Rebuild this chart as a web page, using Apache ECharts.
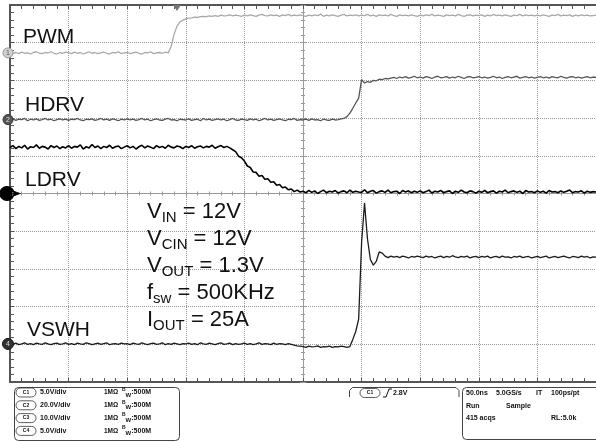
<!DOCTYPE html>
<html>
<head>
<meta charset="utf-8">
<script src="https://cdn.jsdelivr.net/npm/echarts@6/dist/echarts.min.js"></script>
<style>
  html, body { margin: 0; padding: 0; background: #fff; }
  #main { width: 596px; height: 442px; }
</style>
</head>
<body>
<div id="main"></div>
<script>
// time base: one sample every 0.05 division, 10 divisions across
const sampleStep = 0.05;
const channelNames = ['PWM', 'HDRV', 'LDRV', 'VSWH'];
const channelOffsets = [3.73, 1.96, 0, -3.99];   // ground markers, in divisions
const triggerTime = 2.85;

// traces, in vertical divisions
const pwm = [
  3.69,3.72,3.74,3.71,3.75,3.72,3.73,3.70,3.74,3.76,3.72,3.71,3.74,3.73,3.76,3.72,3.70,3.74,3.72,3.75,
  3.73,3.71,3.75,3.72,3.74,3.70,3.73,3.76,3.72,3.74,3.71,3.73,3.75,3.72,3.70,3.74,3.73,3.76,3.71,3.73,
  3.74,3.71,3.73,3.75,3.72,3.70,3.74,3.73,3.76,3.71,3.73,3.74,3.72,3.75,3.73,3.90,4.22,4.44,4.55,4.60,
  4.63,4.65,4.66,4.68,4.67,4.69,4.70,4.69,4.71,4.70,4.72,4.70,4.73,4.71,4.72,4.74,4.71,4.73,4.72,4.70,
  4.73,4.71,4.74,4.72,4.70,4.73,4.75,4.72,4.71,4.74,4.72,4.73,4.70,4.74,4.72,4.75,4.71,4.73,4.72,4.74,
  4.72,4.70,4.73,4.71,4.74,4.72,4.76,4.70,4.73,4.71,4.74,4.72,4.70,4.73,4.75,4.71,4.73,4.72,4.74,4.71,
  4.73,4.72,4.75,4.71,4.73,4.70,4.74,4.72,4.73,4.71,4.75,4.72,4.70,4.74,4.72,4.73,4.71,4.74,4.72,4.70,
  4.73,4.71,4.74,4.72,4.75,4.71,4.73,4.72,4.70,4.74,4.72,4.73,4.71,4.75,4.72,4.70,4.73,4.74,4.71,4.73,
  4.72,4.74,4.70,4.73,4.71,4.75,4.72,4.73,4.71,4.74,4.72,4.70,4.73,4.72,4.75,4.71,4.74,4.72,4.73,4.71,
  4.73,4.71,4.74,4.72,4.70,4.73,4.72,4.75,4.71,4.73,4.72,4.74,4.70,4.73,4.71,4.74,4.72,4.73,4.71,4.72,
  4.73
];
const hdrv = [
  1.95,1.98,1.94,1.97,1.96,1.99,1.93,1.97,1.95,1.98,1.94,1.96,1.99,1.95,1.97,1.93,1.96,1.98,1.95,1.97,
  1.94,1.97,1.96,1.99,1.95,1.93,1.97,1.96,1.98,1.94,1.96,1.99,1.95,1.97,1.94,1.98,1.96,1.93,1.97,1.95,
  1.98,1.95,1.97,1.94,1.96,1.99,1.95,1.97,1.93,1.96,1.98,1.95,1.94,1.97,1.99,1.95,1.96,1.93,1.97,1.96,
  1.95,1.98,1.94,1.96,1.97,1.93,1.99,1.95,1.97,1.94,1.96,1.98,1.95,1.97,1.93,1.96,1.99,1.95,1.94,1.97,
  1.96,1.94,1.98,1.95,1.97,1.93,1.96,1.99,1.95,1.97,1.94,1.96,1.98,1.95,1.93,1.97,1.96,1.99,1.94,1.96,
  1.95,1.97,1.94,1.98,1.95,1.96,1.93,1.97,1.95,1.94,1.97,1.95,1.96,1.98,1.99,2.04,2.13,2.26,2.40,2.53,
  3.02,2.93,2.97,2.95,3.00,2.99,3.03,3.02,3.05,3.04,3.06,3.08,3.05,3.09,3.07,3.10,3.06,3.08,3.11,3.07,
  3.09,3.06,3.10,3.08,3.05,3.09,3.11,3.07,3.08,3.10,3.06,3.09,3.07,3.11,3.08,3.05,3.09,3.10,3.07,3.08,
  3.10,3.07,3.09,3.06,3.08,3.11,3.07,3.09,3.05,3.08,3.10,3.07,3.09,3.11,3.06,3.08,3.10,3.07,3.09,3.06,
  3.08,3.10,3.07,3.09,3.06,3.10,3.08,3.07,3.11,3.08,3.06,3.09,3.10,3.07,3.09,3.06,3.08,3.10,3.07,3.09,
  3.08
];
const ldrv = [
  1.22,1.27,1.19,1.25,1.21,1.28,1.18,1.24,1.22,1.29,1.20,1.25,1.23,1.18,1.27,1.22,1.26,1.19,1.24,1.21,
  1.27,1.20,1.25,1.23,1.29,1.18,1.24,1.21,1.30,1.22,1.26,1.19,1.25,1.22,1.28,1.20,1.24,1.26,1.19,1.23,
  1.27,1.21,1.25,1.18,1.24,1.28,1.21,1.26,1.23,1.19,1.27,1.22,1.25,1.20,1.28,1.23,1.21,1.26,1.24,1.19,
  1.25,1.22,1.27,1.20,1.24,1.26,1.21,1.25,1.23,1.28,1.20,1.24,1.27,1.22,1.25,1.21,1.16,1.11,0.99,0.95,
  0.86,0.73,0.69,0.57,0.56,0.46,0.48,0.38,0.39,0.30,0.31,0.22,0.24,0.15,0.17,0.10,0.12,0.05,0.09,0.04,
  0.06,0.02,0.08,0.03,0.07,0.00,0.05,0.09,0.02,0.06,0.04,0.08,0.01,0.05,0.07,0.02,0.09,0.03,0.06,0.04,
  0.03,0.10,0.02,0.06,0.08,0.01,0.05,0.07,0.03,0.09,0.02,0.05,0.06,0.00,0.08,0.04,0.07,0.02,0.06,0.03,
  0.07,0.02,0.05,0.09,0.01,0.06,0.04,0.08,0.02,0.05,0.07,0.00,0.06,0.03,0.09,0.04,0.02,0.07,0.05,0.01,
  0.06,0.03,0.08,0.02,0.05,0.07,0.01,0.06,0.04,0.09,0.02,0.05,0.07,0.03,0.06,0.00,0.08,0.04,0.05,0.02,
  0.07,0.03,0.06,0.01,0.08,0.04,0.05,0.02,0.07,0.03,0.06,0.09,0.02,0.05,0.04,0.07,0.01,0.06,0.03,0.05,
  0.04
];
const vswh = [
  -3.98,-4.00,-3.97,-4.01,-3.99,-3.96,-4.00,-3.98,-4.01,-3.97,-3.99,-4.00,-3.96,-3.99,-4.01,-3.98,-3.97,-4.00,-3.99,-3.96,
  -4.00,-3.98,-4.01,-3.97,-3.99,-4.00,-3.96,-3.98,-4.01,-3.99,-3.97,-4.00,-3.98,-3.96,-4.01,-3.99,-3.98,-4.00,-3.97,-3.99,
  -3.98,-4.01,-3.97,-3.99,-4.00,-3.96,-3.99,-4.01,-3.98,-3.97,-4.00,-3.99,-3.96,-4.01,-3.98,-4.00,-3.97,-3.99,-4.01,-3.98,
  -3.99,-3.97,-4.00,-3.98,-4.01,-3.96,-3.99,-4.00,-3.97,-3.99,-4.01,-3.98,-3.96,-4.00,-3.99,-3.97,-4.01,-3.98,-4.00,-3.99,
  -3.97,-4.00,-3.98,-4.01,-3.99,-3.96,-4.00,-3.98,-3.99,-4.01,-3.97,-4.00,-3.98,-3.99,-4.01,-3.98,-4.00,-4.02,-4.04,-4.05,
  -4.06,-4.08,-4.05,-4.07,-4.06,-4.04,-4.08,-4.06,-4.07,-4.05,-4.08,-4.06,-4.07,-4.05,-4.06,-4.08,-4.06,-3.87,-3.66,-3.33,
  -1.30,-0.25,-1.20,-1.75,-1.90,-1.80,-1.55,-1.58,-1.66,-1.70,-1.66,-1.69,-1.67,-1.70,-1.66,-1.68,-1.71,-1.67,-1.69,-1.66,
  -1.68,-1.70,-1.66,-1.69,-1.67,-1.71,-1.68,-1.66,-1.70,-1.67,-1.69,-1.65,-1.68,-1.70,-1.67,-1.69,-1.66,-1.71,-1.68,-1.67,
  -1.70,-1.67,-1.69,-1.66,-1.71,-1.68,-1.67,-1.70,-1.66,-1.69,-1.68,-1.71,-1.67,-1.69,-1.66,-1.70,-1.68,-1.67,-1.71,-1.69,
  -1.67,-1.70,-1.68,-1.66,-1.71,-1.69,-1.67,-1.70,-1.68,-1.66,-1.69,-1.71,-1.67,-1.68,-1.70,-1.66,-1.69,-1.67,-1.71,-1.68,
  -1.69
];

// readout panel
const chanScales = ['5.0V/div', '20.0V/div', '10.0V/div', '5.0V/div'];
const chanCoupling = '1MΩ';
const chanBandwidth = ':500M';
const triggerLevel = '2.8V';
const acqRow1 = ['50.0ns', '5.0GS/s', 'IT', '100ps/pt'];
const acqRow2 = ['Run', 'Sample'];
const acqRow3 = ['415 acqs', 'RL:5.0k'];

const traces = [pwm, hdrv, ldrv, vswh];
const traceColors = ['#a9a9a9', '#555555', '#000000', '#1c1c1c'];
const traceWidths = [1.3, 1.3, 1.6, 1.3];

const font = '"Liberation Sans", Arial, sans-serif';
const chart = echarts.init(document.getElementById('main'));

function toPoints(values) {
  return values.map((v, i) => [+(i * sampleStep).toFixed(2), v]);
}

const gridDots = { show: true, lineStyle: { color: '#999', width: 1, type: 'dotted' } };

function frameAxis(pos, split) {
  return {
    type: 'value', gridIndex: 0, min: 0, max: 10, interval: 1, position: pos,
    axisLine: { onZero: false, lineStyle: { color: '#555', width: 2 } },
    axisTick: { inside: true, length: 4, lineStyle: { color: '#555' } },
    minorTick: { show: true, splitNumber: 5, length: 4, lineStyle: { color: '#555' } },
    axisLabel: { show: false },
    splitLine: split ? gridDots : { show: false }
  };
}

function crossAxis(grid, inside) {
  return {
    type: 'value', gridIndex: grid, min: -5, max: 5, interval: 1,
    axisLine: { onZero: true, lineStyle: { color: '#999', width: 1 } },
    axisTick: { inside: inside, length: 3, lineStyle: { color: '#999' } },
    minorTick: { show: true, splitNumber: 5, length: 2, lineStyle: { color: '#999' } },
    axisLabel: { show: false },
    splitLine: { show: false }
  };
}

const markerStyles = [
  { symbol: 'circle', symbolSize: 10, color: '#d0d0d0', border: '#999', text: '1', textColor: '#555' },
  { symbol: 'circle', symbolSize: 10, color: '#555', border: '#333', text: '2', textColor: '#ddd' },
  { symbol: 'path://M7,0A7,7,0,1,0,7,14A7,7,0,1,0,7,0ZM12,4L20,7L12,10Z', symbolSize: [20, 14], color: '#000', border: '#000', text: '', textColor: '#fff' },
  { symbol: 'circle', symbolSize: 11, color: '#333', border: '#111', text: '4', textColor: '#ddd' }
];

const series = traces.map((values, i) => {
  const m = markerStyles[i];
  const marks = [{
    coord: [0, channelOffsets[i]],
    symbol: m.symbol,
    symbolSize: m.symbolSize,
    symbolOffset: [i === 2 ? 0 : -2, 0],
    itemStyle: { color: m.color, borderColor: m.border, borderWidth: 1 },
    label: { show: m.text !== '', formatter: m.text, color: m.textColor, fontSize: 7, fontFamily: font, position: 'inside' }
  }];
  if (i === 0) {
    marks.push({
      coord: [triggerTime, 5],
      symbol: 'triangle', symbolRotate: 180, symbolSize: [8, 6], symbolOffset: [0, 3],
      itemStyle: { color: '#777' }, label: { show: false }
    });
  }
  return {
    name: channelNames[i],
    type: 'line',
    xAxisIndex: 0, yAxisIndex: 0,
    data: toPoints(values),
    showSymbol: false,
    symbol: 'none',
    lineStyle: { color: traceColors[i], width: traceWidths[i] },
    z: 3,
    markPoint: { silent: true, animation: false, data: marks }
  };
});

// text on the screen
const traceLabels = [
  { text: 'PWM', x: 23, y: 37 },
  { text: 'HDRV', x: 25, y: 105 },
  { text: 'LDRV', x: 25, y: 180 },
  { text: 'VSWH', x: 27, y: 330 }
];
const graphics = traceLabels.map(l => ({
  type: 'text', x: l.x, y: l.y, z: 10,
  style: { text: l.text, fontSize: 21, fontFamily: font, fill: '#111', verticalAlign: 'middle' }
}));

graphics.push({
  type: 'text', x: 147, y: 198, z: 10,
  style: {
    text: '{a|V}{s|IN}{a| = 12V}\n{a|V}{s|CIN}{a| = 12V}\n{a|V}{s|OUT}{a| = 1.3V}\n{a|f}{s|sw}{a| = 500KHz}\n{a|I}{s|OUT}{a| = 25A}',
    verticalAlign: 'top',
    rich: {
      a: { fontSize: 22, fontFamily: font, fill: '#111', lineHeight: 27 },
      s: { fontSize: 15, fontFamily: font, fill: '#111', lineHeight: 15, verticalAlign: 'bottom' }
    }
  }
});

// readout boxes
const small = { fontSize: 7, fontWeight: 'bold', fontFamily: font, fill: '#111', verticalAlign: 'middle' };
graphics.push({ type: 'rect', shape: { x: 14.5, y: 387.5, width: 165, height: 53, r: 4 }, style: { fill: '#fff', stroke: '#444', lineWidth: 1 } });
graphics.push({ type: 'polyline', shape: { points: [[349.5, 397], [349.5, 390.5], [352.5, 387.5], [456, 387.5], [459, 390.5], [459, 397]] }, style: { fill: 'none', stroke: '#444', lineWidth: 1 } });
graphics.push({ type: 'rect', shape: { x: 462.5, y: 387.5, width: 150, height: 52, r: 4 }, style: { fill: '#fff', stroke: '#444', lineWidth: 1 } });

function pill(x, y, label) {
  graphics.push({ type: 'rect', shape: { x: x, y: y - 4.5, width: 20, height: 9, r: 4.5 }, style: { fill: '#fff', stroke: '#333', lineWidth: 0.8 } });
  graphics.push({ type: 'text', x: x + 10, y: y, style: Object.assign({}, small, { text: label, fontSize: 5, align: 'center' }) });
}

chanScales.forEach((s, i) => {
  const y = 392.5 + i * 12.8;
  pill(16, y, 'C' + (i + 1));
  graphics.push({ type: 'text', x: 40, y: y, style: Object.assign({}, small, { text: s }) });
  graphics.push({ type: 'text', x: 104, y: y, style: Object.assign({}, small, { text: chanCoupling, fontSize: 6.5 }) });
  graphics.push({
    type: 'text', x: 122, y: y,
    style: {
      text: '{b|B}{w|W}{t|' + chanBandwidth + '}', verticalAlign: 'middle',
      rich: {
        b: { fontSize: 5, fontWeight: 'bold', fontFamily: font, fill: '#111', lineHeight: 6, verticalAlign: 'top' },
        w: { fontSize: 6, fontWeight: 'bold', fontFamily: font, fill: '#111', lineHeight: 6, verticalAlign: 'bottom' },
        t: { fontSize: 7, fontWeight: 'bold', fontFamily: font, fill: '#111', lineHeight: 11 }
      }
    }
  });
});

pill(360, 393, 'C1');
graphics.push({ type: 'polyline', shape: { points: [[383, 397], [386, 397], [389, 389], [392, 389]] }, style: { stroke: '#111', lineWidth: 1, fill: 'none' } });
graphics.push({ type: 'text', x: 393, y: 393, style: Object.assign({}, small, { text: triggerLevel }) });

const acqX1 = [466, 496, 536, 551];
acqRow1.forEach((t, i) => graphics.push({ type: 'text', x: acqX1[i], y: 393, style: Object.assign({}, small, { text: t }) }));
const acqX2 = [466, 506];
acqRow2.forEach((t, i) => graphics.push({ type: 'text', x: acqX2[i], y: 406, style: Object.assign({}, small, { text: t }) }));
const acqX3 = [466, 551];
acqRow3.forEach((t, i) => graphics.push({ type: 'text', x: acqX3[i], y: 418.5, style: Object.assign({}, small, { text: t }) }));

const gridRect = { left: 10, top: 5, width: 590, height: 377 };

chart.setOption({
  backgroundColor: '#fff',
  animation: false,
  grid: [
    Object.assign({}, gridRect),
    Object.assign({}, gridRect),
    Object.assign({}, gridRect)
  ],
  xAxis: [
    frameAxis('bottom', true),
    frameAxis('top', false),
    crossAxis(1, true),
    crossAxis(2, false)
  ],
  yAxis: [
    {
      type: 'value', gridIndex: 0, min: -5, max: 5, interval: 1, position: 'left',
      axisLine: { onZero: false, lineStyle: { color: '#555', width: 2 } },
      axisTick: { inside: true, length: 4, lineStyle: { color: '#555' } },
      minorTick: { show: true, splitNumber: 5, length: 4, lineStyle: { color: '#555' } },
      axisLabel: { show: false },
      splitLine: gridDots
    },
    crossAxis(1, true),
    crossAxis(2, false)
  ],
  series: series,
  graphic: graphics
});
</script>
</body>
</html>
